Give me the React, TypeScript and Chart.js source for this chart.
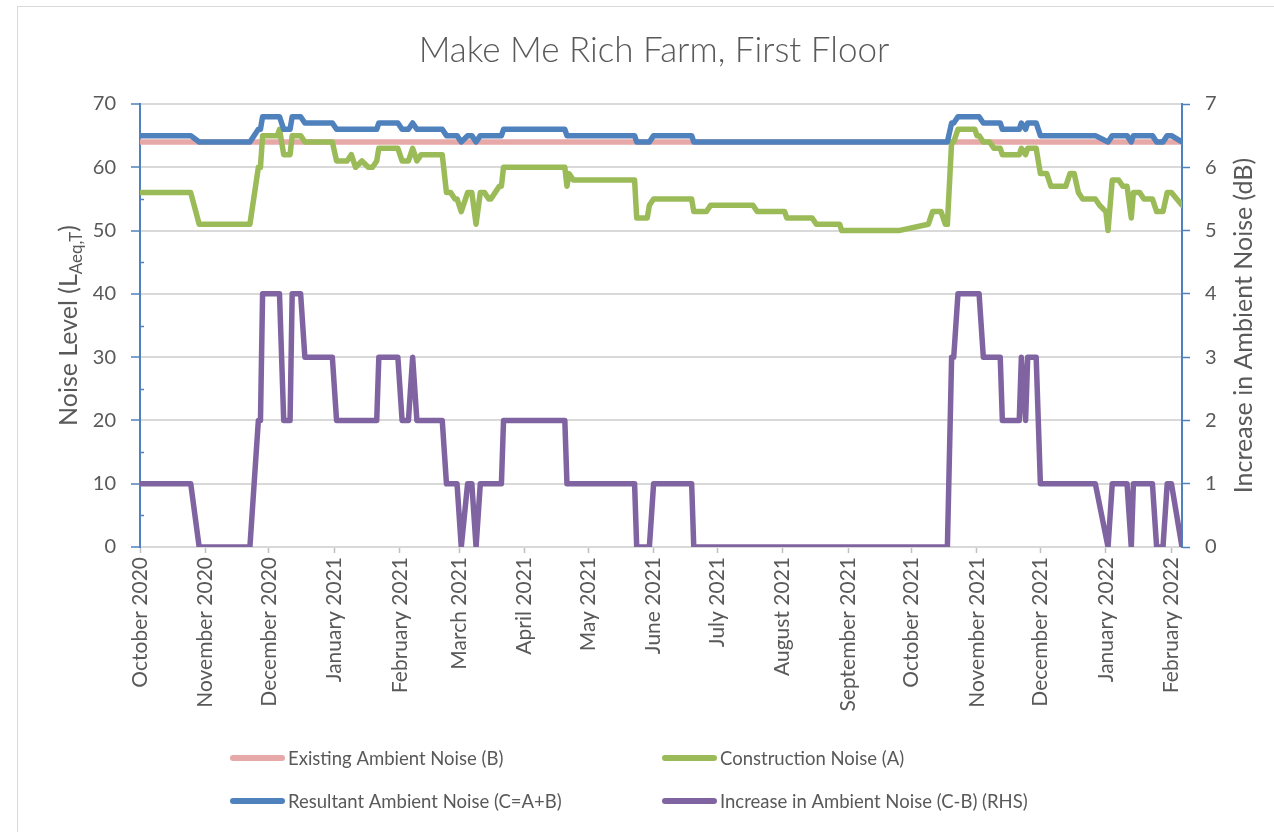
import { useEffect, useRef } from 'react';
import { Chart, registerables } from 'chart.js';

Chart.register(...registerables);

// ---------- DATA ----------
const BASE_DATE = '2020-10-01';

const dates = [
  '2020-10-01', '2020-10-25', '2020-10-29', '2020-11-22', '2020-11-26', '2020-11-27', '2020-11-28',
  '2020-12-05', '2020-12-06', '2020-12-08', '2020-12-11', '2020-12-12', '2020-12-16', '2020-12-18',
  '2020-12-31', '2021-01-02', '2021-01-07', '2021-01-09', '2021-01-11', '2021-01-14', '2021-01-17',
  '2021-01-19', '2021-01-21', '2021-01-22', '2021-01-31', '2021-02-02', '2021-02-05', '2021-02-07',
  '2021-02-09', '2021-02-11', '2021-02-21', '2021-02-23', '2021-02-25', '2021-02-27', '2021-02-28',
  '2021-03-02', '2021-03-05', '2021-03-07', '2021-03-09', '2021-03-11', '2021-03-13', '2021-03-15',
  '2021-03-16', '2021-03-18', '2021-03-20', '2021-03-21', '2021-03-22', '2021-04-20', '2021-04-21',
  '2021-04-22', '2021-04-24', '2021-05-23', '2021-05-24', '2021-05-29', '2021-05-30', '2021-06-01',
  '2021-06-19', '2021-06-20', '2021-06-26', '2021-06-28', '2021-07-18', '2021-07-20', '2021-08-02',
  '2021-08-03', '2021-08-15', '2021-08-17', '2021-08-28', '2021-08-29', '2021-09-25', '2021-10-09',
  '2021-10-11', '2021-10-15', '2021-10-17', '2021-10-18', '2021-10-20', '2021-10-21', '2021-10-23',
  '2021-10-31', '2021-11-01', '2021-11-02', '2021-11-04', '2021-11-07', '2021-11-09', '2021-11-12',
  '2021-11-13', '2021-11-21', '2021-11-22', '2021-11-24', '2021-11-25', '2021-11-29', '2021-12-01',
  '2021-12-04', '2021-12-06', '2021-12-13', '2021-12-15', '2021-12-17', '2021-12-19', '2021-12-21',
  '2021-12-27', '2021-12-29', '2022-01-01', '2022-01-02', '2022-01-04', '2022-01-07', '2022-01-09',
  '2022-01-11', '2022-01-13', '2022-01-14', '2022-01-17', '2022-01-19', '2022-01-23', '2022-01-25',
  '2022-01-28', '2022-01-30', '2022-02-01', '2022-02-06',
];

// Construction Noise (A), dB
const construction = [
  56, 56, 51, 51, 60, 60, 65,
  65, 66, 62, 62, 65, 65, 64,
  64, 61, 61, 62, 60, 61, 60,
  60, 61, 63, 63, 61, 61, 63,
  61, 62, 62, 56, 56, 55, 55,
  53, 56, 56, 51, 56, 56, 55,
  55, 56, 57, 57, 60, 60, 57,
  59, 58, 58, 52, 52, 54, 55,
  55, 53, 53, 54, 54, 53, 53,
  52, 52, 51, 51, 50, 50, 51,
  53, 53, 51, 51, 64, 64, 66,
  66, 65, 65, 64, 64, 63, 63,
  62, 62, 63, 62, 63, 63, 59,
  59, 57, 57, 59, 59, 56, 55,
  55, 54, 53, 50, 58, 58, 57,
  57, 52, 56, 56, 55, 55, 53,
  53, 56, 56, 54,
];

// Resultant Ambient Noise (C=A+B), dB
const resultant = [
  65, 65, 64, 64, 66, 66, 68,
  68, 68, 66, 66, 68, 68, 67,
  67, 66, 66, 66, 66, 66, 66,
  66, 66, 67, 67, 66, 66, 67,
  66, 66, 66, 65, 65, 65, 65,
  64, 65, 65, 64, 65, 65, 65,
  65, 65, 65, 65, 66, 66, 65,
  65, 65, 65, 64, 64, 64, 65,
  65, 64, 64, 64, 64, 64, 64,
  64, 64, 64, 64, 64, 64, 64,
  64, 64, 64, 64, 67, 67, 68,
  68, 68, 68, 67, 67, 67, 67,
  66, 66, 67, 66, 67, 67, 65,
  65, 65, 65, 65, 65, 65, 65,
  65, null, null, 64, 65, 65, 65,
  65, 64, 65, 65, 65, 65, 64,
  64, 65, 65, 64,
];

// Increase in Ambient Noise (C-B), dB (right-hand axis)
const increase = [
  1, 1, 0, 0, 2, 2, 4,
  4, 4, 2, 2, 4, 4, 3,
  3, 2, 2, 2, 2, 2, 2,
  2, 2, 3, 3, 2, 2, 3,
  2, 2, 2, 1, 1, 1, 1,
  0, 1, 1, 0, 1, 1, 1,
  1, 1, 1, 1, 2, 2, 1,
  1, 1, 1, 0, 0, 0, 1,
  1, 0, 0, 0, 0, 0, 0,
  0, 0, 0, 0, 0, 0, 0,
  0, 0, 0, 0, 3, 3, 4,
  4, 4, 4, 3, 3, 3, 3,
  2, 2, 3, 2, 3, 3, 1,
  1, 1, 1, 1, 1, 1, 1,
  1, null, null, 0, 1, 1, 1,
  1, 0, 1, 1, 1, 1, 0,
  0, 1, 1, 0,
];

// Existing Ambient Noise (B), dB
const existingDates = ['2020-10-01', '2022-02-06'];
const existingValues = [64, 64];

const monthTickDates = [
  '2020-10-01', '2020-11-01', '2020-12-01', '2021-01-01', '2021-02-01', '2021-03-01',
  '2021-04-01', '2021-05-01', '2021-06-01', '2021-07-01', '2021-08-01', '2021-09-01',
  '2021-10-01', '2021-11-01', '2021-12-01', '2022-01-01', '2022-02-01',
];
const monthTickLabels = [
  'October 2020', 'November 2020', 'December 2020', 'January 2021', 'February 2021', 'March 2021',
  'April 2021', 'May 2021', 'June 2021', 'July 2021', 'August 2021', 'September 2021',
  'October 2021', 'November 2021', 'December 2021', 'January 2022', 'February 2022',
];

const leftMinorTicks = [5, 15, 25, 35, 45, 55, 65];

const seriesNames = [
  'Existing Ambient Noise (B)',
  'Construction Noise (A)',
  'Resultant Ambient Noise (C=A+B)',
  'Increase in Ambient Noise (C-B) (RHS)',
];

const TITLE = 'Make Me Rich Farm, First Floor';
const LEFT_TITLE_MAIN = 'Noise Level (L';
const LEFT_TITLE_SUB = 'Aeq,T';
const LEFT_TITLE_END = ')';
const RIGHT_TITLE = 'Increase in Ambient Noise (dB)';

// ---------- STYLE ----------
const COLORS = ['#E6A9A7', '#9BBB59', '#4F81BD', '#8064A2'];
const AXIS_BLUE = '#4F81BD';
const GRID = '#D9D9D9';
const TEXT = '#595959';
const FONT = 'Lato, "Open Sans", sans-serif';

const dayOf = (d: string) => Math.round((Date.parse(d) - Date.parse(BASE_DATE)) / 86400000);
const toPoints = (ds: string[], vs: (number | null)[]) => ds.map((d, i) => ({ x: dayOf(d), y: vs[i] }));

const customPlugin = {
  id: 'customDecor',
  afterDraw(chart: any) {
    const { ctx, chartArea, scales } = chart;
    const yL = scales.y;
    ctx.save();

    // chart title (centred on the full chart frame)
    ctx.fillStyle = TEXT;
    ctx.font = `300 35px ${FONT}`;
    ctx.textAlign = 'center';
    ctx.textBaseline = 'middle';
    ctx.fillText(TITLE, 636, 44);

    // minor ticks on left axis
    ctx.strokeStyle = AXIS_BLUE;
    ctx.lineWidth = 1.5;
    leftMinorTicks.forEach((v) => {
      const py = Math.round(yL.getPixelForValue(v)) + 0.5;
      ctx.beginPath();
      ctx.moveTo(chartArea.left, py);
      ctx.lineTo(chartArea.left + 4, py);
      ctx.stroke();
    });

    const cy = (chartArea.top + chartArea.bottom) / 2;
    const mainFont = `25px ${FONT}`;
    const subFont = `17px ${FONT}`;
    ctx.textBaseline = 'alphabetic';
    ctx.textAlign = 'left';

    // left axis title with subscript (reads bottom to top)
    ctx.font = mainFont;
    const w1 = ctx.measureText(LEFT_TITLE_MAIN).width;
    const w3 = ctx.measureText(LEFT_TITLE_END).width;
    ctx.font = subFont;
    const w2 = ctx.measureText(LEFT_TITLE_SUB).width;
    const total = w1 + w2 + w3;
    ctx.translate(59, cy);
    ctx.rotate(-Math.PI / 2);
    let x0 = -total / 2;
    ctx.font = mainFont;
    ctx.fillText(LEFT_TITLE_MAIN, x0, 0);
    x0 += w1;
    ctx.font = subFont;
    ctx.fillText(LEFT_TITLE_SUB, x0, 5);
    x0 += w2;
    ctx.font = mainFont;
    ctx.fillText(LEFT_TITLE_END, x0, 0);
    ctx.setTransform(1, 0, 0, 1, 0, 0);

    // right axis title (reads bottom to top)
    ctx.font = mainFont;
    ctx.textAlign = 'center';
    ctx.translate(1234, cy);
    ctx.rotate(-Math.PI / 2);
    ctx.fillText(RIGHT_TITLE, 0, 0);
    ctx.setTransform(1, 0, 0, 1, 0, 0);

    // legend (two columns, two rows)
    const colX = [212, 644];
    const rowY = [751, 794];
    ctx.font = `18.5px ${FONT}`;
    ctx.textBaseline = 'middle';
    ctx.textAlign = 'left';
    seriesNames.forEach((name, i) => {
      const lx = colX[i % 2];
      const ly = rowY[Math.floor(i / 2)];
      ctx.strokeStyle = COLORS[i];
      ctx.lineWidth = 6;
      ctx.lineCap = 'round';
      ctx.beginPath();
      ctx.moveTo(lx + 3, ly);
      ctx.lineTo(lx + 52, ly);
      ctx.stroke();
      ctx.fillStyle = TEXT;
      ctx.fillText(name, lx + 58, ly + 1);
    });
    ctx.restore();
  },
};

export default function App() {
  const canvasRef = useRef<HTMLCanvasElement | null>(null);

  useEffect(() => {
    if (!canvasRef.current) return;
    const lineBase = {
      borderWidth: 5.5,
      pointRadius: 0,
      pointHoverRadius: 0,
      tension: 0,
      spanGaps: true,
      borderJoinStyle: 'round' as const,
      borderCapStyle: 'round' as const,
    };
    const monthDays = monthTickDates.map(dayOf);
    const chart = new Chart(canvasRef.current, {
      type: 'line',
      data: {
        datasets: [
          { ...lineBase, label: seriesNames[0], data: toPoints(existingDates, existingValues), borderColor: COLORS[0], backgroundColor: COLORS[0], yAxisID: 'y', order: 4 },
          { ...lineBase, label: seriesNames[1], data: toPoints(dates, construction), borderColor: COLORS[1], backgroundColor: COLORS[1], yAxisID: 'y', order: 3 },
          { ...lineBase, label: seriesNames[2], data: toPoints(dates, resultant), borderColor: COLORS[2], backgroundColor: COLORS[2], yAxisID: 'y', order: 2 },
          { ...lineBase, label: seriesNames[3], data: toPoints(dates, increase), borderColor: COLORS[3], backgroundColor: COLORS[3], yAxisID: 'y1', order: 1 },
        ],
      },
      options: {
        animation: false,
        responsive: false,
        events: [],
        layout: { padding: { top: 97, left: 0, right: 0, bottom: 0 } },
        plugins: {
          legend: { display: false },
          tooltip: { enabled: false },
          title: { display: false },
        },
        scales: {
          x: {
            type: 'linear',
            min: 0,
            max: dayOf(existingDates[1]),
            afterBuildTicks: (scale: any) => {
              scale.ticks = monthDays.map((v) => ({ value: v }));
            },
            afterFit: (scale: any) => {
              scale.height = 285;
            },
            ticks: {
              autoSkip: false,
              minRotation: 90,
              maxRotation: 90,
              padding: 4,
              color: TEXT,
              font: { family: FONT, size: 21 },
              callback: (_v: any, i: number) => monthTickLabels[i],
            },
            grid: {
              drawOnChartArea: false,
              drawTicks: true,
              tickLength: 6,
              tickColor: '#BFBFBF',
              tickWidth: 1.5,
            },
            border: { display: true, color: GRID, width: 2 },
          },
          y: {
            type: 'linear',
            position: 'left',
            min: 0,
            max: 70,
            afterFit: (scale: any) => {
              scale.width = 122;
            },
            ticks: {
              stepSize: 10,
              padding: 15,
              color: TEXT,
              font: { family: FONT, size: 20 },
            },
            grid: {
              color: GRID,
              lineWidth: 2,
              tickLength: 9,
              tickColor: AXIS_BLUE,
              tickWidth: 1.5,
            },
            border: { display: true, color: AXIS_BLUE, width: 2 },
          },
          y1: {
            type: 'linear',
            position: 'right',
            min: 0,
            max: 7,
            afterFit: (scale: any) => {
              scale.width = 92;
            },
            ticks: {
              stepSize: 1,
              padding: 15,
              color: TEXT,
              font: { family: FONT, size: 20 },
            },
            grid: {
              drawOnChartArea: false,
              tickLength: 8,
              tickColor: AXIS_BLUE,
              tickWidth: 1.5,
            },
            border: { display: true, color: AXIS_BLUE, width: 2 },
          },
        },
      },
      plugins: [customPlugin],
    });
    return () => chart.destroy();
  }, []);

  return (
    <div
      style={{
        position: 'absolute',
        left: 17,
        top: 6,
        width: 1257,
        height: 826,
        borderLeft: '1px solid #D9D9D9',
        borderTop: '1px solid #D9D9D9',
        boxSizing: 'border-box',
        background: '#fff',
      }}
    >
      <canvas ref={canvasRef} width={1256} height={825} style={{ display: 'block' }} />
    </div>
  );
}
